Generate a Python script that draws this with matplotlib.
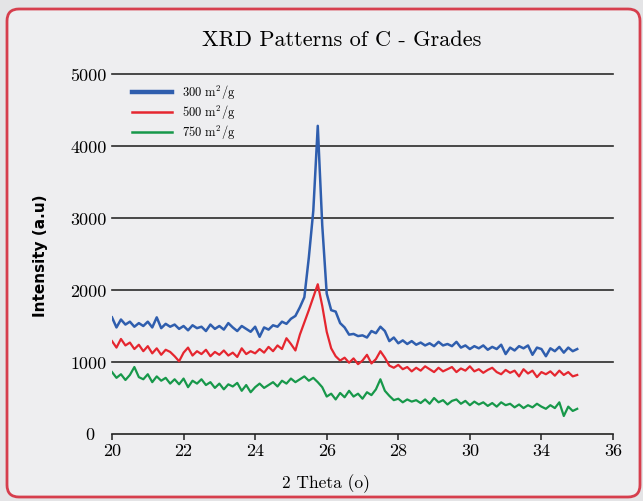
import numpy as np
import matplotlib.pyplot as plt
import matplotlib.patches as mpatches
from matplotlib.lines import Line2D

plt.rcParams['font.family'] = 'cmr10'
plt.rcParams['mathtext.fontset'] = 'cm'
plt.rcParams['axes.formatter.use_mathtext'] = True

# scan positions (axis units), 0.125 step
two_theta = np.arange(105) * 0.125 + 20.0

blue_300 = [1620, 1480, 1590, 1520, 1560, 1490, 1540, 1500, 1560,
            1480, 1620, 1470, 1530, 1490, 1520, 1460, 1500,
            1440, 1510, 1470, 1490, 1430, 1520, 1460, 1500,
            1450, 1540, 1480, 1430, 1500, 1460, 1420, 1490,
            1350, 1480, 1450, 1510, 1490, 1560, 1530, 1600,
            1640, 1760, 1900, 2450, 3100,
            4280,
            2900, 1950, 1720, 1700, 1540, 1480,
            1380, 1390, 1360, 1370, 1340, 1430, 1400, 1490,
            1430, 1290, 1340, 1260, 1300, 1250, 1290, 1240,
            1270, 1230, 1260, 1220, 1280, 1230, 1250, 1220,
            1280, 1200, 1230, 1180, 1220, 1190, 1230, 1170,
            1210, 1180, 1240, 1110, 1200, 1160, 1220, 1190,
            1230, 1100, 1200, 1180, 1080, 1190, 1150, 1210,
            1130, 1200, 1150, 1180]

red_500 = [1290, 1200, 1320, 1230, 1270, 1180, 1240, 1150, 1220,
           1120, 1190, 1100, 1170, 1140, 1080, 1010, 1130,
           1200, 1090, 1150, 1110, 1170, 1080, 1140, 1100,
           1160, 1090, 1130, 1070, 1190, 1110, 1150, 1120,
           1180, 1130, 1210, 1150, 1230, 1180, 1330, 1250,
           1160, 1380, 1550, 1720, 1900,
           2080,
           1780, 1420, 1190, 1080, 1020, 1060,
           990, 1050, 970, 1020, 1100, 980, 1040, 1150,
           1060, 950, 920, 960, 900, 930, 870, 920,
           880, 940, 900, 860, 920, 870, 900, 930,
           860, 910, 880, 940, 870, 900, 850, 890,
           920, 860, 830, 890, 850, 880, 800, 900,
           840, 880, 790, 860, 830, 870, 810, 880,
           820, 860, 800, 820]

green_750 = [860, 780, 830, 750, 820, 930, 790, 760, 830,
             720, 800, 740, 780, 700, 760, 690, 770,
             650, 740, 700, 760, 680, 720, 640, 700,
             620, 690, 660, 710, 600, 680, 580, 650,
             700, 640, 680, 720, 660, 740, 700, 770,
             720, 760, 800, 740, 780,
             720,
             650, 520, 560, 480, 570, 510,
             600, 520, 560, 490, 580, 540, 620, 760,
             600, 530, 470, 490, 440, 480, 450, 470,
             430, 480, 420, 500, 440, 470, 410, 460,
             480, 420, 460, 400, 450, 410, 440, 390,
             430, 380, 440, 400, 420, 370, 410, 360,
             400, 370, 420, 380, 350, 400, 360, 440,
             250, 380, 320, 350]

series_labels = [r'300 m$^2$/g', r'500 m$^2$/g', r'750 m$^2$/g']
x_ticks = [20, 22, 24, 26, 28, 30, 32, 34]
x_tick_labels = ['20', '22', '24', '26', '28', '30', '34', '36']
y_ticks = [1000, 2000, 3000, 4000, 5000]

c_blue, c_red, c_green = '#2f5eae', '#e5262f', '#17984a'

fig = plt.figure(figsize=(6.43, 5.02), dpi=100)
fig.patch.set_facecolor('#e4e4e6')

# rounded red frame, kept behind the axes
frame = mpatches.FancyBboxPatch((7, 4), 633, 488,
                                boxstyle="round,pad=0,rounding_size=12",
                                transform=None, facecolor='#eeeef0',
                                edgecolor='#d63e4d', linewidth=2, zorder=-10)
fig.patches.append(frame)

ax = fig.add_axes([112 / 643, 1 - 435 / 502, 501 / 643, 360 / 502])
ax.set_facecolor('none')

for yv in y_ticks:
    ax.axhline(yv, color='#2b2b2b', lw=1.2, clip_on=False, zorder=1)

ax.plot(two_theta, green_750, color=c_green, lw=1.6, zorder=3)
ax.plot(two_theta, red_500, color=c_red, lw=1.6, zorder=3)
ax.plot(two_theta, blue_300, color=c_blue, lw=1.8, zorder=4)

ax.set_xlim(20, 34)
ax.set_ylim(0, 5000)
for s in ['left', 'right', 'top']:
    ax.spines[s].set_visible(False)
ax.spines['bottom'].set_color('#222222')
ax.spines['bottom'].set_linewidth(1.2)

ax.set_xticks(x_ticks)
ax.set_xticklabels(x_tick_labels, fontsize=13)
ax.tick_params(axis='x', direction='out', length=4, width=1.1, pad=2, color='#222222')
ax.set_yticks(y_ticks)
ax.set_yticklabels([str(v) for v in y_ticks], fontsize=13)
ax.tick_params(axis='y', length=0, pad=4)
ax.text(-0.036, 0, '0', transform=ax.get_yaxis_transform(), ha='right', va='center', fontsize=13)

fig.text(342 / 643, 1 - 40 / 502, 'XRD Patterns of C - Grades', ha='center', va='center', fontsize=16)
fig.text(326 / 643, 1 - 484 / 502, '2 Theta (o)', ha='center', va='center', fontsize=12.5)
fig.text(41 / 643, 1 - 256 / 502, 'Intensity (a.u)', ha='center', va='center', rotation=90,
         fontsize=11, fontweight='bold', family='DejaVu Sans')

handles = [Line2D([], [], color=c_blue, lw=3.2),
           Line2D([], [], color=c_red, lw=1.8),
           Line2D([], [], color=c_green, lw=1.8)]
ax.legend(handles, series_labels, loc='upper left', bbox_to_anchor=(132 / 643, 1 - 84 / 502),
          bbox_transform=fig.transFigure, frameon=False, fontsize=9, handlelength=3.2,
          handletextpad=0.8, labelspacing=0.15, borderpad=0, borderaxespad=0)

fig.savefig('out.png', dpi=100, facecolor=fig.get_facecolor())
